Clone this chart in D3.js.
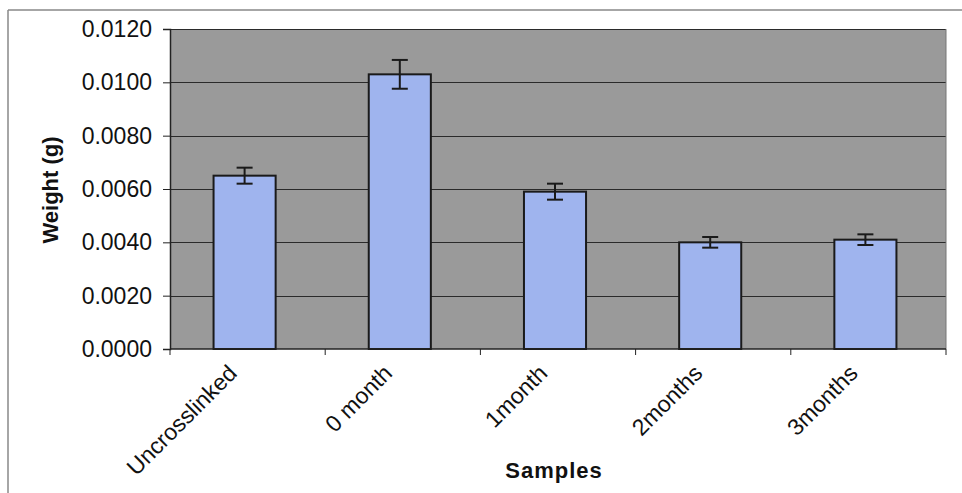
<!DOCTYPE html>
<html>
<head>
<meta charset="utf-8">
<script src="https://cdn.jsdelivr.net/npm/d3@7"></script>
<style>
  html, body { margin: 0; padding: 0; background: #fff; }
  svg { display: block; }
  text { font-family: "Liberation Sans", Arial, sans-serif; fill: #111; }
</style>
</head>
<body>
<svg id="chart" width="962" height="493"></svg>
<script>
// Sample categories, mean weights (g) and error (±) values
const categories = ["Uncrosslinked", "0 month", "1month", "2months", "3months"];
const weights = [0.0065, 0.0103, 0.0059, 0.0040, 0.0041];
const errors = [0.0003, 0.00054, 0.0003, 0.0002, 0.0002];
const yTicks = [0, 0.002, 0.004, 0.006, 0.008, 0.010, 0.012];

const svg = d3.select("#chart");
const plot = { left: 170, right: 946, top: 29, bottom: 349 };

const x = d3.scaleBand().domain(categories).range([plot.left, plot.right]).padding(0);
const y = d3.scaleLinear().domain([0, 0.012]).range([plot.bottom, plot.top]);

// Outer chart frame (left and top edges)
svg.append("line").attr("x1", 8).attr("x2", 8).attr("y1", 10).attr("y2", 493)
  .attr("stroke", "#888").attr("stroke-width", 1.5);
svg.append("line").attr("x1", 8).attr("x2", 962).attr("y1", 10).attr("y2", 10)
  .attr("stroke", "#888").attr("stroke-width", 1.5);

// Plot area background
svg.append("rect")
  .attr("x", plot.left).attr("y", plot.top)
  .attr("width", plot.right - plot.left).attr("height", plot.bottom - plot.top)
  .attr("fill", "#9a9a9a");

// Horizontal gridlines
svg.append("g").selectAll("line").data(yTicks.filter(d => d > 0)).join("line")
  .attr("x1", plot.left).attr("x2", plot.right)
  .attr("y1", d => Math.round(y(d)) + 0.5).attr("y2", d => Math.round(y(d)) + 0.5)
  .attr("stroke", "#2a2a2a").attr("stroke-width", 1);

// Right edge of plot area
svg.append("line").attr("x1", plot.right).attr("x2", plot.right)
  .attr("y1", plot.top).attr("y2", plot.bottom)
  .attr("stroke", "#777").attr("stroke-width", 1);

// Bars (bar width = 40% of the category band)
const barW = x.bandwidth() * 0.4;
const cx = d => x(d) + x.bandwidth() / 2 - 3;
svg.append("g").selectAll("rect").data(categories).join("rect")
  .attr("x", d => cx(d) - barW / 2)
  .attr("y", (d, i) => y(weights[i]))
  .attr("width", barW)
  .attr("height", (d, i) => y(0) - y(weights[i]))
  .attr("fill", "#9fb4ee")
  .attr("stroke", "#1a1a1a").attr("stroke-width", 2);

// Error bars
const eb = svg.append("g").attr("stroke", "#1a1a1a").attr("stroke-width", 2);
categories.forEach((c, i) => {
  const hi = y(weights[i] + errors[i]), lo = y(weights[i] - errors[i]);
  eb.append("line").attr("x1", cx(c)).attr("x2", cx(c)).attr("y1", hi).attr("y2", lo);
  eb.append("line").attr("x1", cx(c) - 8).attr("x2", cx(c) + 8).attr("y1", hi).attr("y2", hi);
  eb.append("line").attr("x1", cx(c) - 8).attr("x2", cx(c) + 8).attr("y1", lo).attr("y2", lo);
});

// Y axis
const yAxis = d3.axisLeft(y).tickValues(yTicks).tickFormat(d3.format(".4f")).tickSize(7).tickPadding(11);
const gy = svg.append("g").attr("transform", `translate(${plot.left},0)`).call(yAxis);
gy.select(".domain").attr("stroke", "#222").attr("stroke-width", 1.5);
gy.selectAll(".tick line").attr("stroke", "#222");
gy.selectAll(".tick text").style("font-size", "23px").attr("fill", "#111")
  .style("font-family", "'Liberation Sans', Arial, sans-serif");

// X axis: ticks at category boundaries
const gx = svg.append("g").attr("transform", `translate(0,${plot.bottom})`);
gx.append("line").attr("x1", plot.left).attr("x2", plot.right).attr("y1", 0).attr("y2", 0)
  .attr("stroke", "#222").attr("stroke-width", 1.5);
const bounds = categories.map(c => x(c)).concat([plot.right]);
gx.selectAll("line.tk").data(bounds).join("line").attr("class", "tk")
  .attr("x1", d => d).attr("x2", d => d).attr("y1", 0).attr("y2", 6)
  .attr("stroke", "#222");
gx.selectAll("text").data(categories).join("text")
  .attr("transform", d => `translate(${x(d) + x.bandwidth() / 2 - 15},${20}) rotate(-45)`)
  .attr("text-anchor", "end")
  .attr("dy", "0.35em")
  .style("font-size", "23px")
  .text(d => d);

// Axis titles
svg.append("text")
  .attr("transform", `translate(58,${190}) rotate(-90)`)
  .attr("text-anchor", "middle")
  .style("font-size", "22px").style("font-weight", "bold")
  .text("Weight (g)");
svg.append("text")
  .attr("x", 554).attr("y", 478)
  .attr("text-anchor", "middle")
  .style("font-size", "22px").style("font-weight", "bold")
  .style("letter-spacing", "1px")
  .text("Samples");
</script>
</body>
</html>
